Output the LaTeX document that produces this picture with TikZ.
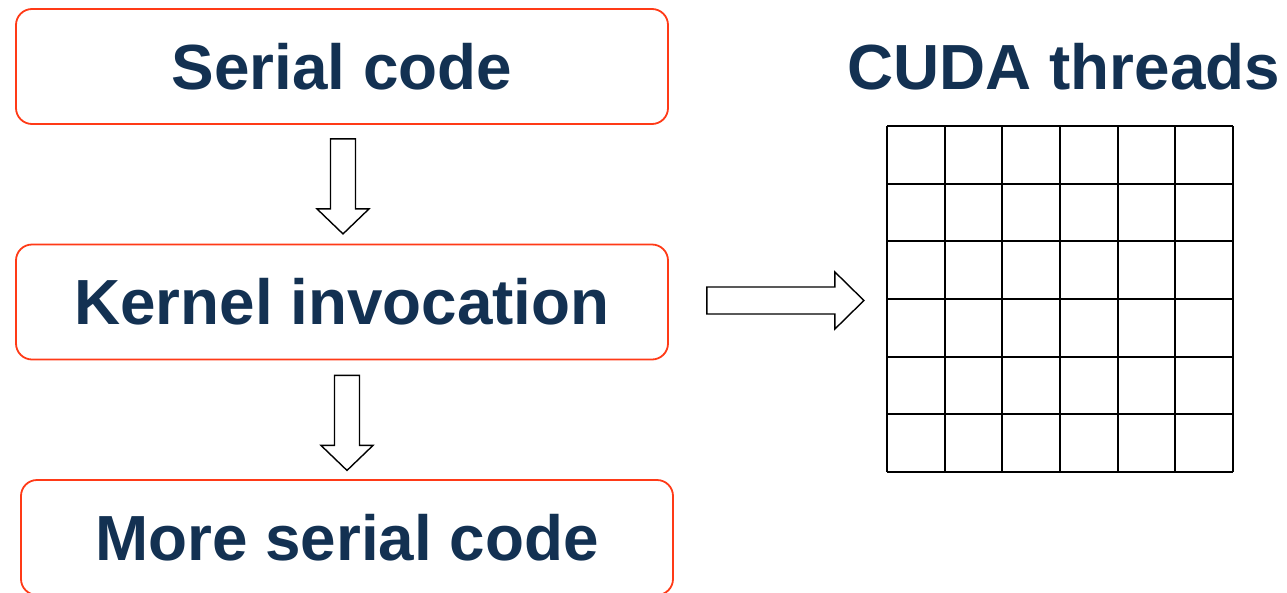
\documentclass[tikz,border=0pt]{standalone}
\usepackage{fontspec}
\setmainfont{Liberation Sans}
\usetikzlibrary{calc}
\definecolor{navy}{HTML}{133152}
\definecolor{boxred}{HTML}{FF3A17}
\begin{document}
\begin{tikzpicture}[x=1pt,y=-1pt,
  bigtext/.style={text=navy,font=\fontsize{63.8}{70}\selectfont\bfseries},
  codebox/.style={bigtext,draw=boxred,line width=1.8pt,rounded corners=16pt,minimum width=652pt,minimum height=115pt,inner sep=0pt},
  blockarrow/.style={draw=black,line width=1.4pt,fill=white,line join=miter},
  gridline/.style={draw=black,line width=2pt}]
\useasboundingbox (0,0) rectangle (1287,592);
\node[codebox] (serial) at (342,66.5) {Serial code};
\node[codebox] (kernel) at (342,302) {Kernel invocation};
\node[codebox] (more) at (347,537.5) {More serial code};
\node[bigtext,inner sep=0pt] (cuda) at (1064,67) {CUDA threads};
% grid
\coordinate (g0) at (887,126);
\coordinate (g1) at (1233,472);
\foreach \i in {0,...,6} {
  \draw[gridline] ($(g0)+(\i*57.667,0)$) -- ($(g0)+(\i*57.667,346)$);
  \draw[gridline] ($(g0)+(0,\i*57.667)$) -- ($(g0)+(346,\i*57.667)$);
}
% down arrow 1 (serial -> kernel)
\coordinate (a1) at ($(serial.south)+(1,14)$);
\draw[blockarrow] ($(a1)+(-12.5,0)$) -- ($(a1)+(12.5,0)$) -- ($(a1)+(12.5,70)$) -- ($(a1)+(26,70)$) -- ($(a1)+(0,95)$) -- ($(a1)+(-26,70)$) -- ($(a1)+(-12.5,70)$) -- cycle;
% down arrow 2 (kernel -> more)
\coordinate (a2) at ($(kernel.south)+(5,15)$);
\draw[blockarrow] ($(a2)+(-12.5,0)$) -- ($(a2)+(12.5,0)$) -- ($(a2)+(12.5,70)$) -- ($(a2)+(26,70)$) -- ($(a2)+(0,95)$) -- ($(a2)+(-26,70)$) -- ($(a2)+(-12.5,70)$) -- cycle;
% right arrow (kernel -> grid)
\coordinate (a3) at ($(kernel.east)+(38,-1.5)$);
\draw[blockarrow] ($(a3)+(0,-13.5)$) -- ($(a3)+(128,-13.5)$) -- ($(a3)+(128,-28.5)$) -- ($(a3)+(157,0)$) -- ($(a3)+(128,28.5)$) -- ($(a3)+(128,13.5)$) -- ($(a3)+(0,13.5)$) -- cycle;
\end{tikzpicture}
\end{document}
